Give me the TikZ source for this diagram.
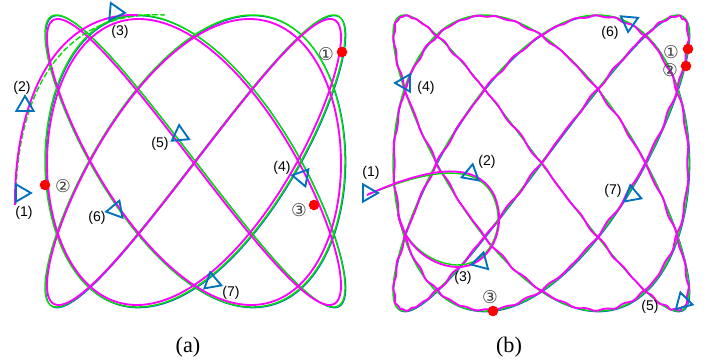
\documentclass[tikz,border=0pt]{standalone}
\usepackage{fontspec}
\setmainfont{Liberation Serif}
\setsansfont{Liberation Sans}
\newfontfamily\circfont{DejaVu Sans}
\usepackage{xcolor}
\definecolor{refgreen}{RGB}{0,225,0}
\definecolor{trackblue}{RGB}{0,114,189}
\definecolor{robmag}{RGB}{255,0,255}

\begin{document}
\begin{tikzpicture}[
    x=0.03cm, y=-0.03cm,
    refpath/.style={refgreen, line width=1.2pt},
    planpath/.style={trackblue, line width=0.9pt},
    robpath/.style={robmag, line width=1.6pt},
    hitdot/.style={circle, fill=red, inner sep=0pt, minimum size=9pt},
    tag/.style={font=\sffamily\fontsize{12}{14}\selectfont, inner sep=1pt},
    circnum/.style={font=\circfont\fontsize{15}{17}\selectfont, text=black!75, inner sep=0pt},
    caption/.style={font=\fontsize{19}{22}\selectfont},
    dirmark/.pic={\draw[trackblue, line width=1.6pt, line join=miter] (0:8.5pt) -- (120:8.5pt) -- (240:8.5pt) -- cycle;}
]
    \useasboundingbox (0,0) rectangle (715,364);

    % (a) reference, plan and robot paths
    \draw[planpath, shift={(0.8,0.8)}] plot[domain=0:360, samples=721, variable=\t] ({195+150*sin(3*\t)}, {161-146*sin(4*\t)});
    \draw[refpath] plot[domain=0:360, samples=721, variable=\t] ({195+150*sin(3*\t)}, {161-146*sin(4*\t)});
    \draw[robpath] plot[domain=0:360, samples=721, variable=\t] ({194+147*sin(3*\t+1.5)}, {162-143*sin(4*\t+1.5)});

    % (a) approach
    \coordinate (astart) at (15,205);
    \coordinate (ajoin) at (138,15);
    \coordinate (ajoinref) at (165,15);
    \draw[refpath, dash pattern=on 5pt off 2pt] (16,204) .. controls (15,108) and (52,9) .. (ajoinref);
    \draw[robpath] (astart) .. controls (14,110) and (50,12) .. (ajoin);

    % (a) markers
    \pic[rotate=0] at (21,193) {dirmark};
    \pic[rotate=90] at (25,106) {dirmark};
    \pic[rotate=-5] at (115,12) {dirmark};
    \pic[rotate=-70] at (302,177) {dirmark};
    \pic[rotate=-25] at (180,135) {dirmark};
    \pic[rotate=-50] at (116,210) {dirmark};
    \pic[rotate=-140] at (212,282) {dirmark};
    \node[tag] (a1) at (24,213) {(1)};
    \node[tag] (a2) at (22,88) {(2)};
    \node[tag] (a3) at (120,32) {(3)};
    \node[tag] (a4) at (282,168) {(4)};
    \node[tag] (a5) at (160,144) {(5)};
    \node[tag] (a6) at (97,218) {(6)};
    \node[tag] (a7) at (231,293) {(7)};

    % (a) events
    \node[hitdot] (ahit1) at (342,52) {};
    \node[hitdot] (ahit2) at (45,185) {};
    \node[hitdot] (ahit3) at (314,205) {};
    \node[circnum] (aev1) at (326,54) {①};
    \node[circnum] (aev2) at (63,186) {②};
    \node[circnum] (aev3) at (299,210) {③};

    % (b) reference, plan and robot paths
    \draw[planpath, shift={(0.8,0.8)}] plot[domain=0:360, samples=721, variable=\t] ({541+148*sin(3*\t)}, {163-148*sin(4*\t)});
    \draw[refpath] plot[domain=0:360, samples=721, variable=\t] ({541+148*sin(3*\t)}, {163-148*sin(4*\t)});
    \draw[robpath] plot[domain=0:6.2832, samples=2001, variable=\t] ({541+147*sin(deg(3*\t))+0.8*sin(deg(mod(97*\t,6.2832)))}, {163-147*sin(deg(4*\t))+0.8*cos(deg(mod(131*\t,6.2832)))});

    % (b) approach loop
    \coordinate (bstart) at (367,195);
    \coordinate (bjoin) at (398,214);
    \draw[refpath] (bstart) .. controls (420,173) and (475,159) .. (493,196) .. controls (508,229) and (488,266) .. (457,265) .. controls (428,264) and (402,240) .. (bjoin);
    \draw[robpath] (bstart) .. controls (420,171) and (475,157) .. (494,195) .. controls (509,228) and (489,268) .. (457,267) .. controls (428,266) and (403,242) .. (bjoin);

    % (b) markers
    \pic[rotate=0] at (368,193) {dirmark};
    \pic[rotate=80] at (471,174) {dirmark};
    \pic[rotate=75] at (481,262) {dirmark};
    \pic[rotate=180] at (405,83) {dirmark};
    \pic[rotate=-15] at (683,302) {dirmark};
    \pic[rotate=-95] at (629,22) {dirmark};
    \pic[rotate=-20] at (632,195) {dirmark};
    \node[tag] (b1) at (371,173) {(1)};
    \node[tag] (b2) at (487,162) {(2)};
    \node[tag] (b3) at (463,278) {(3)};
    \node[tag] (b4) at (426,88) {(4)};
    \node[tag] (b5) at (650,307) {(5)};
    \node[tag] (b6) at (610,33) {(6)};
    \node[tag] (b7) at (613,191) {(7)};

    % (b) events
    \node[hitdot] (bhit1) at (688,49) {};
    \node[hitdot] (bhit2) at (686,66) {};
    \node[hitdot] (bhit3) at (493,311) {};
    \node[circnum] (bev1) at (671,52) {①};
    \node[circnum] (bev2) at (670,70) {②};
    \node[circnum] (bev3) at (490,297) {③};

    % captions
    \node[caption] (capa) at (188,347) {(a)};
    \node[caption] (capb) at (509,347) {(b)};
\end{tikzpicture}
\end{document}
